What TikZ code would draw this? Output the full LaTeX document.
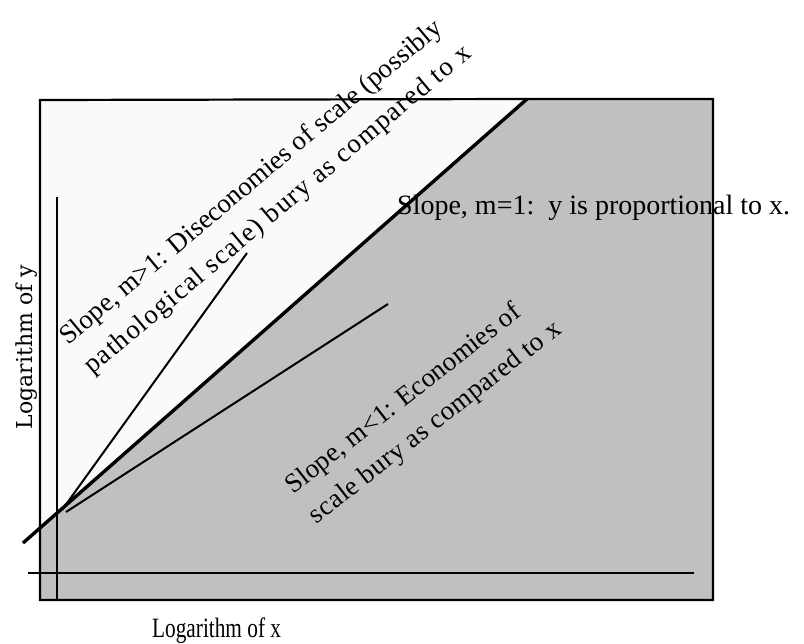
\documentclass[tikz,border=0pt]{standalone}
\usepackage{fontspec}
\setmainfont{Liberation Serif}
\newfontfamily\labfont{DejaVu Serif}
\newfontfamily\widefont[LetterSpace=5]{Liberation Serif}
\newfontfamily\semiwidefont[LetterSpace=2]{Liberation Serif}
\definecolor{lightfill}{HTML}{FAFAFA}
\definecolor{grayfill}{HTML}{C0C0C0}
\tikzset{
  border/.style={line width=2.2pt, line join=miter},
  thinline/.style={line width=2pt},
  thickline/.style={line width=3.4pt},
  axisline/.style={line width=2.2pt},
  dotlabel/.style={font=\fontsize{27}{38}\selectfont, align=left, inner sep=0pt},
}
\begin{document}
\begin{tikzpicture}[x=1pt,y=-1pt]
\useasboundingbox (0,0) rectangle (804,644);
% coordinates
\coordinate (tl) at (40,100);
\coordinate (tm) at (527,99);
\coordinate (tr) at (713,99);
\coordinate (br) at (713,600);
\coordinate (bl) at (40,600);
\coordinate (lm) at (40,528);
\coordinate (dstart) at (23,543);
\coordinate (sA) at (62,510);
\coordinate (sB) at (247,253);
\coordinate (hA) at (66,512);
\coordinate (hB) at (388,304);
\coordinate (yA) at (57,197);
\coordinate (yB) at (57,600);
\coordinate (xA) at (28,573);
\coordinate (xB) at (694,573);
% regions
\fill[lightfill] (tl) -- (tm) -- (lm) -- cycle;
\fill[grayfill] (tm) -- (tr) -- (br) -- (bl) -- (lm) -- cycle;
\draw[border] (lm) -- (tl) -- (tm) -- (tr) -- (br) -- (bl) -- (lm);
% lines
\draw[thickline] (dstart) -- (tm);
\draw[thinline] (sA) -- (sB);
\draw[thinline] (hA) -- (hB);
\draw[axisline] (yA) -- (yB);
\draw[axisline] (xA) -- (xB);
% labels
\node[anchor=base west, inner sep=0pt] (prop) at (397,215) {\fontsize{28}{28}\selectfont Slope, m=1:\ \ y is proportional to x.};
\node[anchor=base west, inner sep=0pt] (lx) at (152,637) {\scalebox{0.76}[1.0]{\fontsize{28}{28}\selectfont Logarithm of x}};
\node[rotate=90, anchor=base, inner sep=0pt] (ly) at (32,347) {\labfont\fontsize{22}{22}\selectfont Logarithm of y};
\node[dotlabel, rotate=40] (upper) at (266,196) {Slope, m>1: Diseconomies of scale (possibly\\{\widefont pathological scale) bury as compared to x}};
\node[dotlabel, rotate=38] (lower) at (424,408) {Slope, m<1: Economies of\\{\semiwidefont scale bury as compared to x}};
\end{tikzpicture}
\end{document}
